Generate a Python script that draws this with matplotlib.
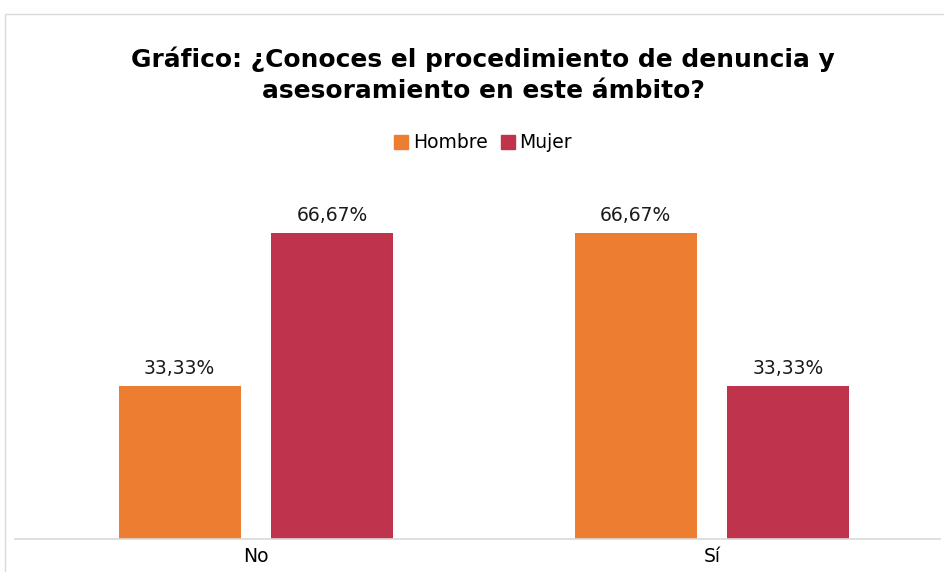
import matplotlib
matplotlib.use('Agg')
import matplotlib.pyplot as plt
from matplotlib.patches import Rectangle
from matplotlib.lines import Line2D
import numpy as np

categories = ['No', 'Sí']
hombre = [33.33, 66.67]
mujer = [66.67, 33.33]
series = ['Hombre', 'Mujer']
colors = ['#ED7D31', '#C0334D']

W, H = 944, 572
fig = plt.figure(figsize=(W / 100, H / 100), dpi=100)

# light gray chart frame (extends off the right/bottom edges)
fig.patches.append(Rectangle((5 / W, -0.1), 1.1, (H - 14) / H + 0.1,
                             transform=fig.transFigure, fill=False,
                             edgecolor='#D9D9D9', linewidth=1))

ax_bottom = 539
ax_top = 172
ax = fig.add_axes([15 / W, 1 - ax_bottom / H, (940 - 15) / W, (ax_bottom - ax_top) / H])

ind = np.arange(len(categories))
width = 0.268
off = 0.167

def fmt(v):
    return '{:.2f}%'.format(v).replace('.', ',')

for vals, dx, col in [(hombre, -off, colors[0]), (mujer, off, colors[1])]:
    rects = ax.bar(ind + dx, vals, width, color=col)
    for rect, v in zip(rects, vals):
        ax.annotate(fmt(v),
                    xy=(rect.get_x() + rect.get_width() / 2, rect.get_height()),
                    xytext=(0, 6), textcoords='offset points',
                    ha='center', va='bottom', fontsize=13.5, color='#1a1a1a')

ax.set_xlim(-0.528, 1.5)
ax.set_ylim(0, 80)
ax.set_xticks(ind)
ax.set_xticklabels(categories, fontsize=13.5)
ax.tick_params(axis='x', length=0, pad=6)
ax.set_yticks([])
for s in ['top', 'right', 'left']:
    ax.spines[s].set_visible(False)
ax.spines['bottom'].set_color('#D9D9D9')
ax.spines['bottom'].set_linewidth(1.2)

fig.text(483 / W, 1 - 75 / H, 'Gráfico: ¿Conoces el procedimiento de denuncia y\nasesoramiento en este ámbito?',
         ha='center', va='center', fontsize=17.9, fontweight='bold', linespacing=1.38)

handles = [Line2D([], [], marker='s', linestyle='', markersize=10, color=c) for c in colors]
fig.legend(handles, series, loc='center', bbox_to_anchor=(482 / W, 1 - 143 / H),
           ncol=2, frameon=False, fontsize=13.5, handletextpad=0.1, columnspacing=0.6,
           handlelength=1.0)

fig.savefig('out.png', dpi=100)
